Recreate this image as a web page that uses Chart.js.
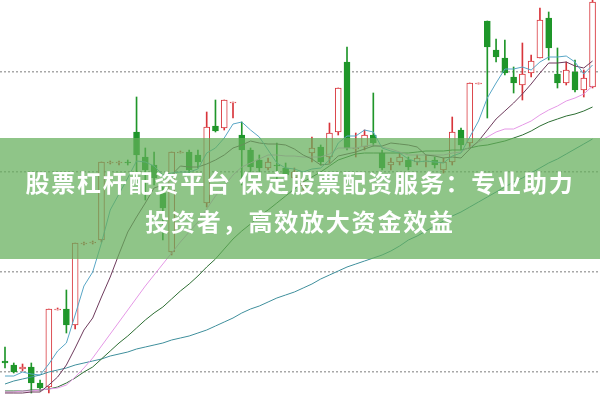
<!DOCTYPE html>
<html>
<head>
<meta charset="utf-8">
<script src="https://cdn.jsdelivr.net/npm/chart.js@4.4.0/dist/chart.umd.min.js"></script>
<style>
  html, body { margin: 0; padding: 0; background: #fff; }
  #wrap { position: relative; width: 600px; height: 400px; overflow: hidden; }
  #banner {
    position: absolute; left: 0; top: 138px; width: 600px; height: 121px;
    background: rgba(100, 175, 90, 0.72);
    display: flex; align-items: center; justify-content: center;
  }
  #banner div {
    color: #fff; font-family: "Noto Sans CJK SC", "Noto Sans", sans-serif;
    font-weight: bold; font-size: 24px; letter-spacing: 1.8px;
    line-height: 39px; text-align: center; padding-top: 4px;
  }
</style>
</head>
<body>
<div id="wrap">
  <canvas id="chart" width="600" height="400"></canvas>
  <div id="banner"><div>股票杠杆配资平台 保定股票配资服务：专业助力<br>投资者，高效放大资金效益</div></div>
</div>
<script>
// daily candles
var opens = [10.11,10.07,10.03,10.05,9.89,9.85,10.62,10.63,10.47,11.28,
  11.29,11.32,12.09,12.09,12.10,12.40,12.15,12.07,11.79,11.20,
  12.19,12.20,12.17,11.69,12.46,12.44,12.69,12.37,12.22,12.12,
  12.04,12.07,12.04,11.94,11.86,12.19,12.25,12.15,12.40,13.10,
  12.23,12.25,12.37,12.19,12.07,12.10,12.12,12.10,12.10,12.12,
  12.02,12.10,12.42,12.29,12.88,13.51,13.22,13.14,12.95,12.87,
  12.99,13.14,13.54,12.98,12.89,13.00,12.82,12.85];
var closes = [10.09,10.00,10.05,9.89,9.84,10.63,10.63,10.47,11.29,11.29,
  11.30,12.10,12.10,12.10,12.09,12.17,12.02,11.94,11.64,12.20,
  12.20,12.02,12.10,12.45,12.41,12.72,12.70,12.22,12.05,12.04,
  12.10,12.06,11.97,12.00,11.89,12.24,12.10,12.39,12.84,12.24,
  12.24,12.37,12.29,12.04,12.10,12.15,12.05,12.14,12.11,12.07,
  12.10,12.40,12.27,12.89,12.89,13.25,13.15,12.99,12.89,12.98,
  13.11,13.52,13.24,12.89,13.02,12.82,12.94,13.70];
var highs = [10.25,10.09,10.08,10.09,9.92,10.63,10.64,10.82,11.29,11.30,
  11.31,12.10,12.11,12.11,12.12,12.75,12.24,12.20,11.85,12.20,
  12.21,12.22,12.22,12.60,12.72,12.72,12.70,12.50,12.24,12.17,
  12.14,12.29,12.09,12.04,11.92,12.35,12.27,12.49,12.84,13.25,
  12.39,12.42,12.79,12.22,12.14,12.19,12.15,12.17,12.17,12.15,
  12.14,12.55,12.44,12.89,12.89,13.51,13.33,13.32,13.05,13.29,
  13.17,13.64,13.60,13.24,13.10,13.12,13.02,13.82];
var lows = [10.04,9.99,10.01,9.79,9.81,9.79,10.62,10.39,10.43,11.27,
  11.28,11.30,12.08,12.07,12.07,11.92,11.72,11.87,11.32,11.17,
  12.19,11.97,12.04,11.65,12.40,12.42,12.54,11.87,12.00,12.00,
  12.02,11.92,11.94,11.90,11.82,12.10,12.07,12.09,12.37,12.22,
  12.15,12.22,12.26,12.02,12.02,12.07,12.02,12.07,12.05,12.04,
  11.99,12.07,12.22,12.24,12.88,12.54,13.10,12.97,12.79,12.72,
  12.95,13.14,13.12,12.84,12.87,12.80,12.75,12.84];

// moving average lines
var ma5 = [9.96,9.96,10.00,9.98,9.97,10.08,10.21,10.29,10.57,10.86,
  11.00,11.29,11.62,11.78,11.94,12.11,12.10,12.06,11.97,11.99,
  12.00,12.00,12.03,12.19,12.24,12.34,12.48,12.50,12.42,12.35,
  12.22,12.09,12.04,12.03,12.00,12.03,12.04,12.12,12.29,12.36,
  12.36,12.42,12.40,12.24,12.21,12.19,12.13,12.10,12.11,12.10,
  12.09,12.16,12.19,12.35,12.51,12.74,12.89,13.03,13.03,13.05,
  13.02,13.10,13.15,13.15,13.16,13.10,12.98,13.07];
var ma10 = [9.79,9.79,9.79,9.80,9.80,9.87,9.95,10.07,10.24,10.42,
  10.54,10.75,10.95,11.18,11.40,11.55,11.69,11.84,11.87,11.97,
  12.06,12.05,12.05,12.08,12.12,12.17,12.24,12.27,12.31,12.29,
  12.28,12.28,12.27,12.23,12.17,12.13,12.07,12.08,12.16,12.18,
  12.20,12.23,12.26,12.26,12.29,12.28,12.27,12.25,12.17,12.16,
  12.14,12.15,12.14,12.23,12.31,12.42,12.53,12.61,12.69,12.78,
  12.88,12.99,13.09,13.09,13.10,13.06,13.04,13.11];
var ma20 = [9.80,9.80,9.81,9.81,9.82,9.83,9.84,9.87,9.95,10.04,
  10.14,10.26,10.38,10.50,10.62,10.74,10.86,10.97,11.08,11.19,
  11.30,11.40,11.50,11.63,11.76,11.86,11.97,12.05,12.09,12.13,
  12.17,12.17,12.16,12.16,12.15,12.15,12.15,12.18,12.24,12.24,
  12.24,12.26,12.27,12.25,12.23,12.20,12.17,12.17,12.17,12.17,
  12.17,12.19,12.20,12.25,12.30,12.35,12.40,12.43,12.43,12.47,
  12.51,12.57,12.62,12.66,12.71,12.74,12.78,12.86];
var ma30 = [9.81,9.81,9.81,9.82,9.82,9.83,9.85,9.89,9.94,10.00,
  10.05,10.13,10.21,10.29,10.36,10.44,10.52,10.59,10.65,10.73,
  10.81,10.88,10.96,11.05,11.13,11.23,11.33,11.41,11.48,11.56,
  11.62,11.69,11.76,11.83,11.90,11.95,12.00,12.06,12.12,12.15,
  12.18,12.19,12.19,12.19,12.19,12.19,12.19,12.20,12.21,12.21,
  12.21,12.22,12.22,12.24,12.26,12.27,12.29,12.31,12.34,12.37,
  12.41,12.46,12.50,12.53,12.56,12.58,12.61,12.65];
var ma60 = [9.88,9.91,9.93,9.95,9.97,10.00,10.02,10.04,10.07,10.09,
  10.11,10.13,10.16,10.18,10.20,10.23,10.25,10.27,10.29,10.32,
  10.34,10.36,10.39,10.42,10.46,10.50,10.54,10.59,10.63,10.66,
  10.70,10.74,10.77,10.80,10.84,10.88,10.93,10.97,11.01,11.05,
  11.08,11.11,11.14,11.17,11.21,11.26,11.32,11.36,11.41,11.46,
  11.51,11.56,11.60,11.65,11.70,11.75,11.80,11.85,11.90,11.94,
  11.99,12.04,12.09,12.13,12.18,12.23,12.28,12.33];

var gridPrices = [10, 11, 12, 13];

var RED = '#d8353b', GREEN = '#1f962a';

var up = opens.map(function(o, i) { return closes[i] >= o; });
var bodies = opens.map(function(o, i) { return {x: i, y: [o, closes[i]]}; });
var wicks = lows.map(function(l, i) { return {x: i, y: [l, highs[i]]}; });

function maLine(label, vals, color) {
  return {
    type: 'line', label: label, order: 1,
    data: vals.map(function(v, i) { return {x: i, y: v}; }),
    borderColor: color, borderWidth: 1, pointRadius: 0, tension: 0, fill: false
  };
}

new Chart(document.getElementById('chart').getContext('2d'), {
  type: 'bar',
  data: {
    datasets: [
      maLine('MA5', ma5, '#58a6c6'),
      maLine('MA10', ma10, '#6e3a5c'),
      maLine('MA20', ma20, '#e598e6'),
      maLine('MA30', ma30, '#2d6e33'),
      maLine('MA60', ma60, '#3f8f9c'),
      {
        label: 'body', order: 2, data: bodies, grouped: false,
        barThickness: 6, borderWidth: 1, borderSkipped: false,
        backgroundColor: up.map(function(u) { return u ? '#ffffff' : GREEN; }),
        borderColor: up.map(function(u) { return u ? RED : GREEN; })
      },
      {
        label: 'wick', order: 3, data: wicks, grouped: false,
        barThickness: 1, borderWidth: 0,
        backgroundColor: up.map(function(u) { return u ? RED : GREEN; })
      }
    ]
  },
  options: {
    responsive: false,
    animation: false,
    layout: { padding: 0 },
    plugins: { legend: { display: false }, tooltip: { enabled: false } },
    scales: {
      x: { type: 'linear', min: -0.57, max: 67.85, offset: false, display: false },
      y: {
        min: 9.72, max: 13.72,
        afterBuildTicks: function(s) { s.ticks = gridPrices.map(function(v) { return {value: v}; }); },
        ticks: { display: false },
        border: { display: false, dash: [2, 2] },
        grid: { color: '#a8a8a8', lineWidth: 1.5, drawTicks: false }
      }
    }
  }
});
</script>
</body>
</html>
